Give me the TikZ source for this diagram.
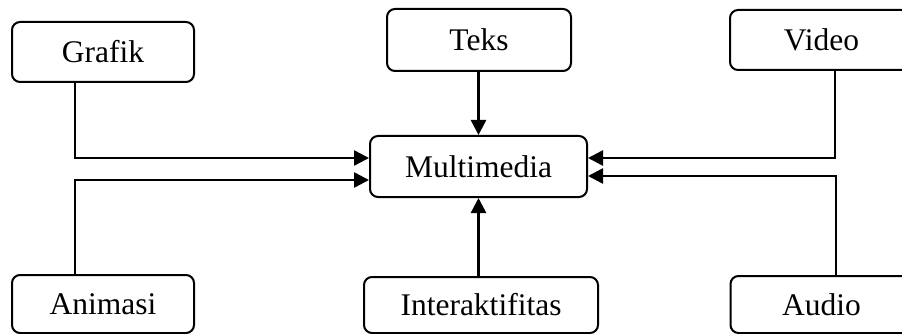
\documentclass[tikz,border=0pt]{standalone}
\usepackage{fontspec}
\setmainfont{Liberation Serif}
\usetikzlibrary{arrows.meta}
\begin{document}
\begin{tikzpicture}[x=1pt,y=-1pt,
  box/.style={draw=black,line width=2pt,rounded corners=8pt,rectangle,inner sep=0pt,
    font=\fontsize{31.5}{36}\selectfont},
  conn/.style={draw=black,line width=2.5pt},
  arr/.style={conn,-{Triangle[length=15pt,width=15pt]}}]
\useasboundingbox (0,0) rectangle (902,334);
\node[box,minimum width=182pt,minimum height=60pt] (grafik) at (103,52) {Grafik};
\node[box,minimum width=184pt,minimum height=62pt] (teks) at (479,40) {Teks};
\node[box,minimum width=183pt,minimum height=60pt] (video) at (821.5,40) {Video};
\node[box,minimum width=217pt,minimum height=61pt] (multi) at (478.5,166.5) {Multimedia};
\node[box,minimum width=182pt,minimum height=58pt] (animasi) at (103,304) {Animasi};
\node[box,minimum width=234pt,minimum height=56pt] (inter) at (481,305) {Interaktifitas};
\node[box,minimum width=182pt,minimum height=57pt] (audio) at (821.5,304.5) {Audio};
\draw[arr] ([xshift=-28pt]grafik.south) |- ([yshift=8.5pt]multi.west);
\draw[arr] ([xshift=-28pt]animasi.north) |- ([yshift=-13.5pt]multi.west);
\draw[arr] (teks.south -| multi.north) -- (multi.north);
\draw[arr] (inter.north -| multi.south) -- (multi.south);
\draw[arr] ([xshift=13.5pt]video.south) |- ([yshift=8.5pt]multi.east);
\draw[arr] ([xshift=14.5pt]audio.north) |- ([yshift=-9.5pt]multi.east);
\end{tikzpicture}
\end{document}
